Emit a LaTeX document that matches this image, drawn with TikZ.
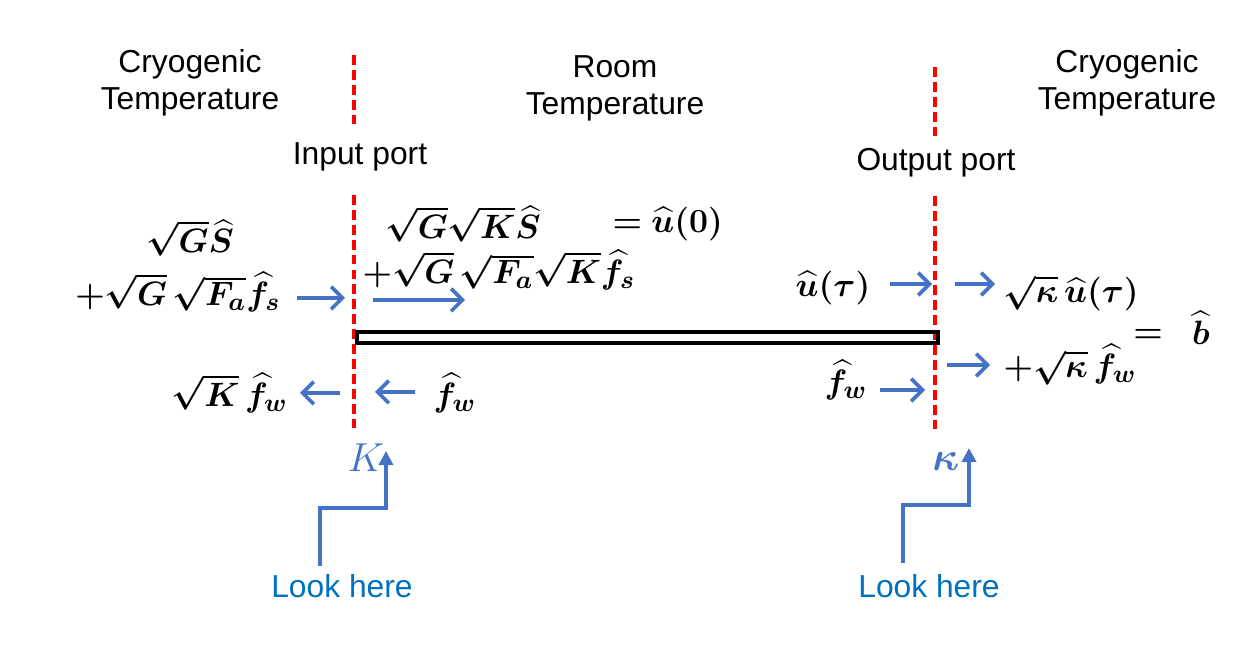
\documentclass[tikz,border=0pt]{standalone}
\usepackage{amsmath,bm}
\usepackage{fontspec}
\setmainfont{Liberation Sans}
\usetikzlibrary{arrows.meta}

\definecolor{arrowblue}{RGB}{68,114,196}
\definecolor{lookblue}{RGB}{0,112,192}

\tikzset{
  port/.style={red,line width=1.3pt,dash pattern=on 3.5pt off 1.8pt},
  flow/.style={arrowblue,line width=1.3pt,-{Straight Barb[length=4pt,width=8pt,line width=1.3pt]}},
  pointer/.style={arrowblue,line width=1.2pt,-{Triangle[length=5pt,width=5pt]}},
  eq/.style={font=\fontsize{12.2}{15}\selectfont,inner sep=0pt},
  lbl/.style={font=\fontsize{11.3}{13.1}\selectfont,align=center,inner sep=0pt}
}

\begin{document}
\begin{tikzpicture}[x=0.0125cm,y=-0.0125cm]
      \useasboundingbox (0,0) rectangle (1234,651);

      % region labels
      \node[lbl] (cryoleft) at (190,83) {Cryogenic\\Temperature};
      \node[lbl] (room) at (615,88) {Room\\Temperature};
      \node[lbl] (cryoright) at (1127,83) {Cryogenic\\Temperature};
      \node[lbl] (inport) at (360,157) {Input port};
      \node[lbl] (outport) at (936,163) {Output port};

      % ports
      \draw[port] (354,55) -- (354,125);
      \draw[port] (354,195) -- (354,430);
      \draw[port] (935,67) -- (935,137);
      \draw[port] (935,196) -- (935,430);

      % transmission line
      \draw[line width=1.1pt] (357,332) rectangle (938,343);

      % input side
      \node[eq] (gs) at (190,238) {$\bm{\sqrt{G}\widehat{S}}$};
      \node[eq] (gfs) at (178,292) {$\bm{+\sqrt{G}\,\sqrt{F_a}\widehat{f}_s}$};
      \node[eq] (kfw) at (230,393) {$\bm{\sqrt{K}\,\widehat{f}_w}$};
      \node[eq] (fwin) at (455,393) {$\bm{\widehat{f}_w}$};
      \node[eq,anchor=west] (ggks) at (385,224) {$\bm{\sqrt{G}\sqrt{K}\widehat{S}}$};
      \node[eq,anchor=west] (u0) at (612,224) {$\bm{=\widehat{u}(0)}$};
      \node[eq,anchor=west] (ggfks) at (362,270) {$\bm{+\sqrt{G}\,\sqrt{F_a}\sqrt{K}\widehat{f}_s}$};

      % output side
      \node[eq] (ut) at (833,288) {$\bm{\widehat{u}(\tau)}$};
      \node[eq] (fwout) at (846,380) {$\bm{\widehat{f}_w}$};
      \node[eq,anchor=west] (kut) at (1003,293) {$\bm{\sqrt{\kappa}\,\widehat{u}(\tau)}$};
      \node[eq,anchor=west] (kfwout) at (1003,365) {$\bm{+\sqrt{\kappa}\,\widehat{f}_w}$};
      \node[eq] (eqb) at (1148,336) {$\bm{=}$};
      \node[eq] (bout) at (1201,328) {$\widehat{\bm{b}}$};

      \foreach \n/\xa/\xb/\y in {a/297/345/298, b/373/465/300, c/340/300/393, d/415/375/392,
                                 e/890/932/284, f/955/995/284, g/947/990/365, h/880/925/390}
      {
        \coordinate (\n0) at (\xa,\y);
        \coordinate (\n1) at (\xb,\y);
        \draw[flow] (\n0) -- (\n1);
      }

      % look here
      \node[eq,text=arrowblue,font=\fontsize{14}{16}\selectfont] (kin) at (366,458) {$K$};
      \node[eq,text=arrowblue,font=\fontsize{14}{16}\selectfont] (kout) at (946,462) {$\bm{\kappa}$};
      \node[lbl,text=lookblue] (look1) at (342,586) {Look here};
      \node[lbl,text=lookblue] (look2) at (929,586) {Look here};
      \coordinate (l1) at (320,566);
      \coordinate (k1) at (386,451);
      \coordinate (l2) at (903,563);
      \coordinate (k2) at (969,448);
      \draw[pointer] (l1) -- ++(0,-58) -| (k1);
      \draw[pointer] (l2) -- ++(0,-58) -| (k2);

\end{tikzpicture}
\end{document}
